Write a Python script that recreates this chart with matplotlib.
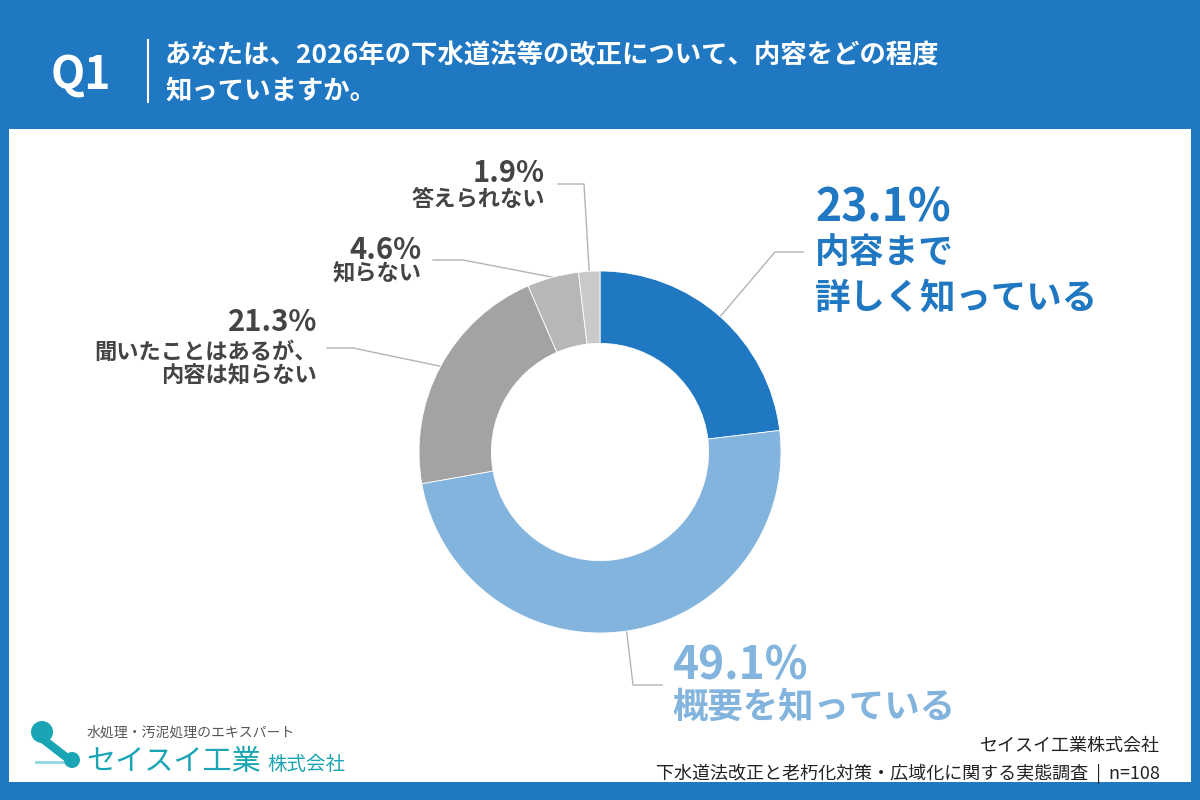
import numpy as np
import matplotlib
matplotlib.use("Agg")
import matplotlib.pyplot as plt
from matplotlib.patches import Rectangle, Circle

plt.rcParams['font.family'] = ['Noto Sans CJK JP', 'DejaVu Sans']

# ---- data ---------------------------------------------------------------
categories = ["内容まで\n詳しく知っている", "概要を知っている",
              "聞いたことはあるが、\n内容は知らない", "知らない", "答えられない"]
values = [23.1, 49.1, 21.3, 4.6, 1.9]
colors = ["#1f78c1", "#83b4dd", "#a3a3a5", "#b7b7b9", "#c9c9cb"]

title_lines = ["あなたは、2026年の下水道法等の改正について、内容をどの程度",
               "知っていますか。"]
source_lines = ["セイスイ工業株式会社",
                "下水道法改正と老朽化対策・広域化に関する実態調査 | n=108"]

BLUE = "#1f78c1"
GRAY_TXT = "#444444"
LEAD = "#b4b4b4"

# ---- canvas (pixel coordinates) -------------------------------------------
fig = plt.figure(figsize=(12, 8), dpi=100)
bg = fig.add_axes([0, 0, 1, 1])
bg.set_xlim(0, 1200); bg.set_ylim(800, 0); bg.axis("off")
bg.add_patch(Rectangle((0, 0), 1200, 800, facecolor=BLUE, zorder=0))
bg.add_patch(Rectangle((9, 129), 1182, 653, facecolor="white", zorder=1))

# header
bg.text(51, 76, "Q1", color="white", fontsize=32, fontweight="bold",
        va="center", ha="left", zorder=3)
bg.plot([148, 148], [40, 102], color="white", lw=1.5, zorder=3)
for i, line in enumerate(title_lines):
    bg.text(165, 56 + i * 35, line, color="white", fontsize=19,
            fontweight="bold", va="center", ha="left", zorder=3)

# ---- donut ----------------------------------------------------------------
cx, cy, R = 600, 452, 181
ax = fig.add_axes([(cx - R) / 1200, (800 - cy - R) / 800, 2 * R / 1200, 2 * R / 800])
ax.pie(values, colors=colors, startangle=90, counterclock=False, radius=1,
       wedgeprops=dict(width=0.4, edgecolor="white", linewidth=0.6))
ax.set_xlim(-1, 1); ax.set_ylim(-1, 1); ax.axis("off")

# leader anchors from wedge mid-angles
cum = np.cumsum([0] + values[:-1])
mids = np.deg2rad(360 * (cum + np.array(values) / 2) / sum(values))
anchors = [(cx + R * np.sin(t), cy - R * np.cos(t)) for t in mids]

# per label: elbow, end, text x, alignment, [(text, y, size, color)]
layout = [
    ((775, 252), (803, 252), 815, "left",
     [("23.1%", 209, 32, BLUE), ("内容まで", 253, 25, BLUE), ("詳しく知っている", 298, 25.5, BLUE)]),
    ((633, 685), (662, 685), 672, "left",
     [("49.1%", 666, 32, "#83b4dd"), ("概要を知っている", 707, 25.5, "#83b4dd")]),
    ((353, 348), (327, 348), 317, "right",
     [("21.3%", 322, 21, GRAY_TXT), ("聞いたことはあるが、", 352, 16, GRAY_TXT),
      ("内容は知らない", 376, 16, GRAY_TXT)]),
    ((463, 260), (433, 260), 422, "right",
     [("4.6%", 250, 21, GRAY_TXT), ("知らない", 274, 16, GRAY_TXT)]),
    ((584, 184), (558, 184), 545, "right",
     [("1.9%", 173, 21, GRAY_TXT), ("答えられない", 200, 16, GRAY_TXT)]),
]
for (ax0, ay0), (elbow, end, tx, ha, rows) in zip(anchors, layout):
    bg.plot([ax0, elbow[0], end[0]], [ay0, elbow[1], end[1]],
            color=LEAD, lw=1.0, zorder=2)
    for txt, ty, fs, col in rows:
        bg.text(tx, ty, txt, color=col, fontsize=fs, fontweight="bold",
                ha=ha, va="center", zorder=3)

# ---- logo -----------------------------------------------------------------
TEAL = "#1aa5b5"
bg.plot([44, 66], [740, 757], color=TEAL, lw=6, solid_capstyle="round", zorder=2)
bg.plot([36, 66], [762, 762], color="#8fd6de", lw=2, zorder=2)
bg.add_patch(Circle((42, 732), 11, facecolor=TEAL, zorder=3))
bg.add_patch(Circle((72, 760), 8, facecolor=TEAL, zorder=3))
bg.text(87, 733, "水処理・汚泥処理のエキスパート", color="#555555", fontsize=10,
        va="center", ha="left", zorder=3)
bg.text(86, 762, "セイスイ工業", color=TEAL, fontsize=21, va="center",
        ha="left", zorder=3)
bg.text(267, 765, "株式会社", color=TEAL, fontsize=14, va="center",
        ha="left", zorder=3)

# ---- source ---------------------------------------------------------------
for i, line in enumerate(source_lines):
    bg.text(1160, 746 + i * 28, line.replace(" | ", "  |  "), color="#222222",
            fontsize=13, ha="right", va="center", zorder=3)

fig.savefig("out.png", dpi=100)
